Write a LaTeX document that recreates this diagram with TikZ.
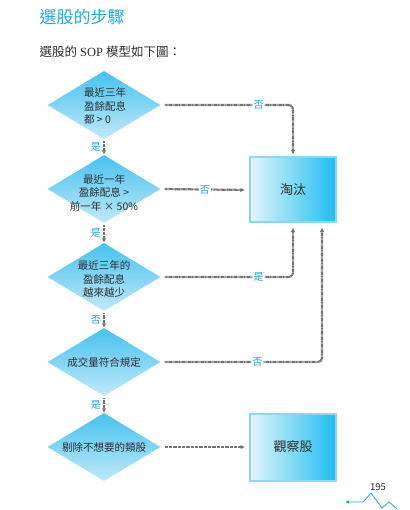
\documentclass[tikz,border=0pt]{standalone}
\usepackage{fontspec}
\setmainfont{Liberation Serif}
\newfontfamily\cjk{Noto Sans CJK TC}
\usetikzlibrary{shapes.geometric,arrows.meta}

\definecolor{titleblue}{RGB}{30,170,228}
\definecolor{labelblue}{RGB}{25,165,225}
\definecolor{dtop}{RGB}{70,194,240}
\definecolor{dbottom}{RGB}{192,233,249}
\definecolor{bleft}{RGB}{228,245,252}
\definecolor{bright}{RGB}{28,190,240}
\definecolor{bborder}{RGB}{140,214,245}
\definecolor{flowgray}{RGB}{115,115,115}
\definecolor{txt}{RGB}{45,45,45}

\tikzset{
  decision/.style={diamond, minimum width=113pt, minimum height=68pt, inner sep=0pt,
    top color=dtop, bottom color=dbottom, draw=none},
  dtext/.style={font=\cjk\fontsize{10.5}{13.5}\selectfont, text=txt, align=center, inner sep=0pt},
  result/.style={rectangle, minimum width=86pt, minimum height=65pt,
    left color=bleft, right color=bright, draw=bborder, line width=2pt,
    font=\cjk\fontsize{13}{15}\selectfont, text=txt},
  flow/.style={draw=flowgray, line width=2.2pt, dash pattern=on 0.9pt off 0.4pt,
    -{Latex[length=4.5pt,width=4.5pt]}, rounded corners=4pt},
  answer/.style={font=\cjk\fontsize{10}{12}\selectfont, text=labelblue, fill=white, inner sep=1pt},
}

\begin{document}
\begin{tikzpicture}[x=1pt,y=-1pt]
\useasboundingbox (0,0) rectangle (409,510);

% ---------- heading ----------
\node[anchor=west, font=\cjk\fontsize{17}{20}\selectfont, text=titleblue] (title) at (36,17) {選股的步驟};
\node[anchor=west, font=\fontsize{12.5}{15}\selectfont, text=txt] (intro) at (36,52) {{\cjk 選股的} SOP {\cjk 模型如下圖：}};

% ---------- decisions (centres measured from source) ----------
\node[decision] (d1) at (104,105) {};
\node[decision] (d2) at (104,189) {};
\node[decision] (d3) at (104,277) {};
\node[decision] (d4) at (104,362) {};
\node[decision] (d5) at (104,447) {};

\node[dtext, align=left] (t1) at (105,106) {最近三年\\盈餘配息\\都 > 0};
\node[dtext] (t2) at (104,193) {最近一年\\盈餘配息 >\\前一年 × 50\%};
\node[dtext] (t3) at (104,279) {最近三年的\\盈餘配息\\越來越少};
\node[dtext] (t4) at (104,362) {成交量符合規定};
\node[dtext] (t5) at (104,447) {剔除不想要的類股};

% ---------- results ----------
\node[result] (cut) at (293,190) {淘汰};
\node[result, minimum height=67pt] (keep) at (293,447) {觀察股};

% ---------- downward flow ----------
\draw[flow, shorten <=2pt] (d1.south) -- node[answer, left, fill=none, xshift=-1pt] {是} (d2.north);
\draw[flow, shorten <=2pt] (d2.south) -- node[answer, left, fill=none, xshift=-1pt] {是} (d3.north);
\draw[flow, shorten <=2pt] (d3.south) -- node[answer, left, fill=none, xshift=-1pt] {否} (d4.north);
\draw[flow, shorten <=2pt] (d4.south) -- node[answer, left, fill=none, xshift=-1pt] {是} (d5.north);

% ---------- flow to the right ----------
\draw[flow, shorten <=4pt, shorten >=2pt] (d1.east) -| node[answer, pos=0.37] {否} (cut.north);
\draw[flow, shorten <=4pt, shorten >=4pt] (d2.east) -- node[answer] {否} (cut.west);
\draw[flow, shorten <=4pt, shorten >=4pt] (d3.east) -| node[answer, pos=0.37] {是} (cut.south);
\draw[flow, shorten <=4pt, shorten >=4pt] (d4.east) -| node[answer, pos=0.3] {否} ([xshift=29pt]cut.south);
\draw[flow, shorten <=4pt, shorten >=4pt] (d5.east) -- (keep.west);

% ---------- page number ----------
\node[font=\cjk\fontsize{9.5}{11}\selectfont, text=txt] (page) at (378,487) {195};
\draw[labelblue, line width=0.8pt, -{Latex[length=4pt,width=3.5pt]}]
  (397,509) -- (389,502) -- (382,508) -- (371,493) -- (363,502) -- (345,502);

\end{tikzpicture}
\end{document}
